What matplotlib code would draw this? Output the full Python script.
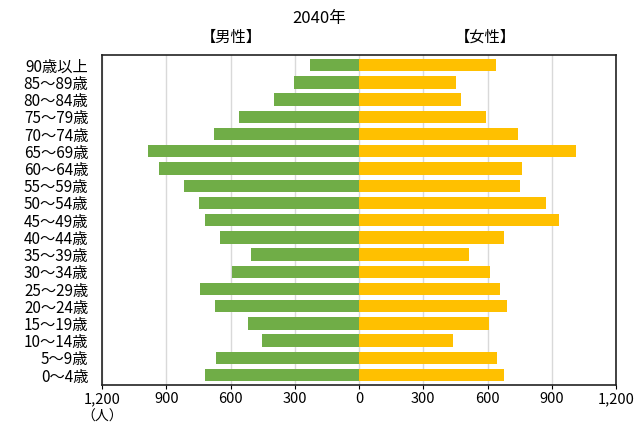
import numpy as np
import matplotlib.pyplot as plt

plt.rcParams['font.family'] = ['Noto Sans CJK JP', 'DejaVu Sans']

age_groups = ['0～4歳', '5～9歳', '10～14歳', '15～19歳', '20～24歳', '25～29歳',
              '30～34歳', '35～39歳', '40～44歳', '45～49歳', '50～54歳', '55～59歳',
              '60～64歳', '65～69歳', '70～74歳', '75～79歳', '80～84歳', '85～89歳',
              '90歳以上']
male = [718, 669, 455, 520, 675, 745, 592, 506, 648, 718, 747, 818,
        936, 986, 680, 560, 397, 302, 231]
female = [678, 646, 440, 608, 692, 657, 613, 512, 676, 934, 873, 753,
          759, 1013, 740, 592, 478, 451, 640]
ticks = [-1200, -900, -600, -300, 0, 300, 600, 900, 1200]
tick_labels = ['1,200', '900', '600', '300', '0', '300', '600', '900', '1,200']

fig = plt.figure(figsize=(6.39, 4.25), dpi=100)
ax = fig.add_axes([0.16, 0.093, 0.804, 0.778])

y = np.arange(len(age_groups))
ax.barh(y, -np.array(male), height=0.72, color='#70AD47', zorder=3)
ax.barh(y, female, height=0.72, color='#FFC000', zorder=3)

ax.set_xlim(-1200, 1200)
ax.set_ylim(-0.6, len(age_groups) - 0.4)
ax.set_xticks(ticks)
ax.set_xticklabels(tick_labels, fontsize=10.5)
ax.set_yticks(y)
ax.set_yticklabels(age_groups, fontsize=11)
ax.tick_params(axis='y', length=0, pad=10)
ax.tick_params(axis='x', length=3, pad=2, direction='out')
ax.grid(axis='x', color='#D9D9D9', linewidth=1, zorder=0)
for s in ax.spines.values():
    s.set_color('#222222')
    s.set_linewidth(1.2)

fig.text(0.5, 0.957, '2040年', ha='center', va='center', fontsize=12)
fig.text(0.362, 0.913, '【男性】', ha='center', va='center', fontsize=11)
fig.text(0.760, 0.913, '【女性】', ha='center', va='center', fontsize=11)
fig.text(0.16, 0.003, '（人）', ha='center', va='bottom', fontsize=10)

fig.savefig('out.png', dpi=100)
